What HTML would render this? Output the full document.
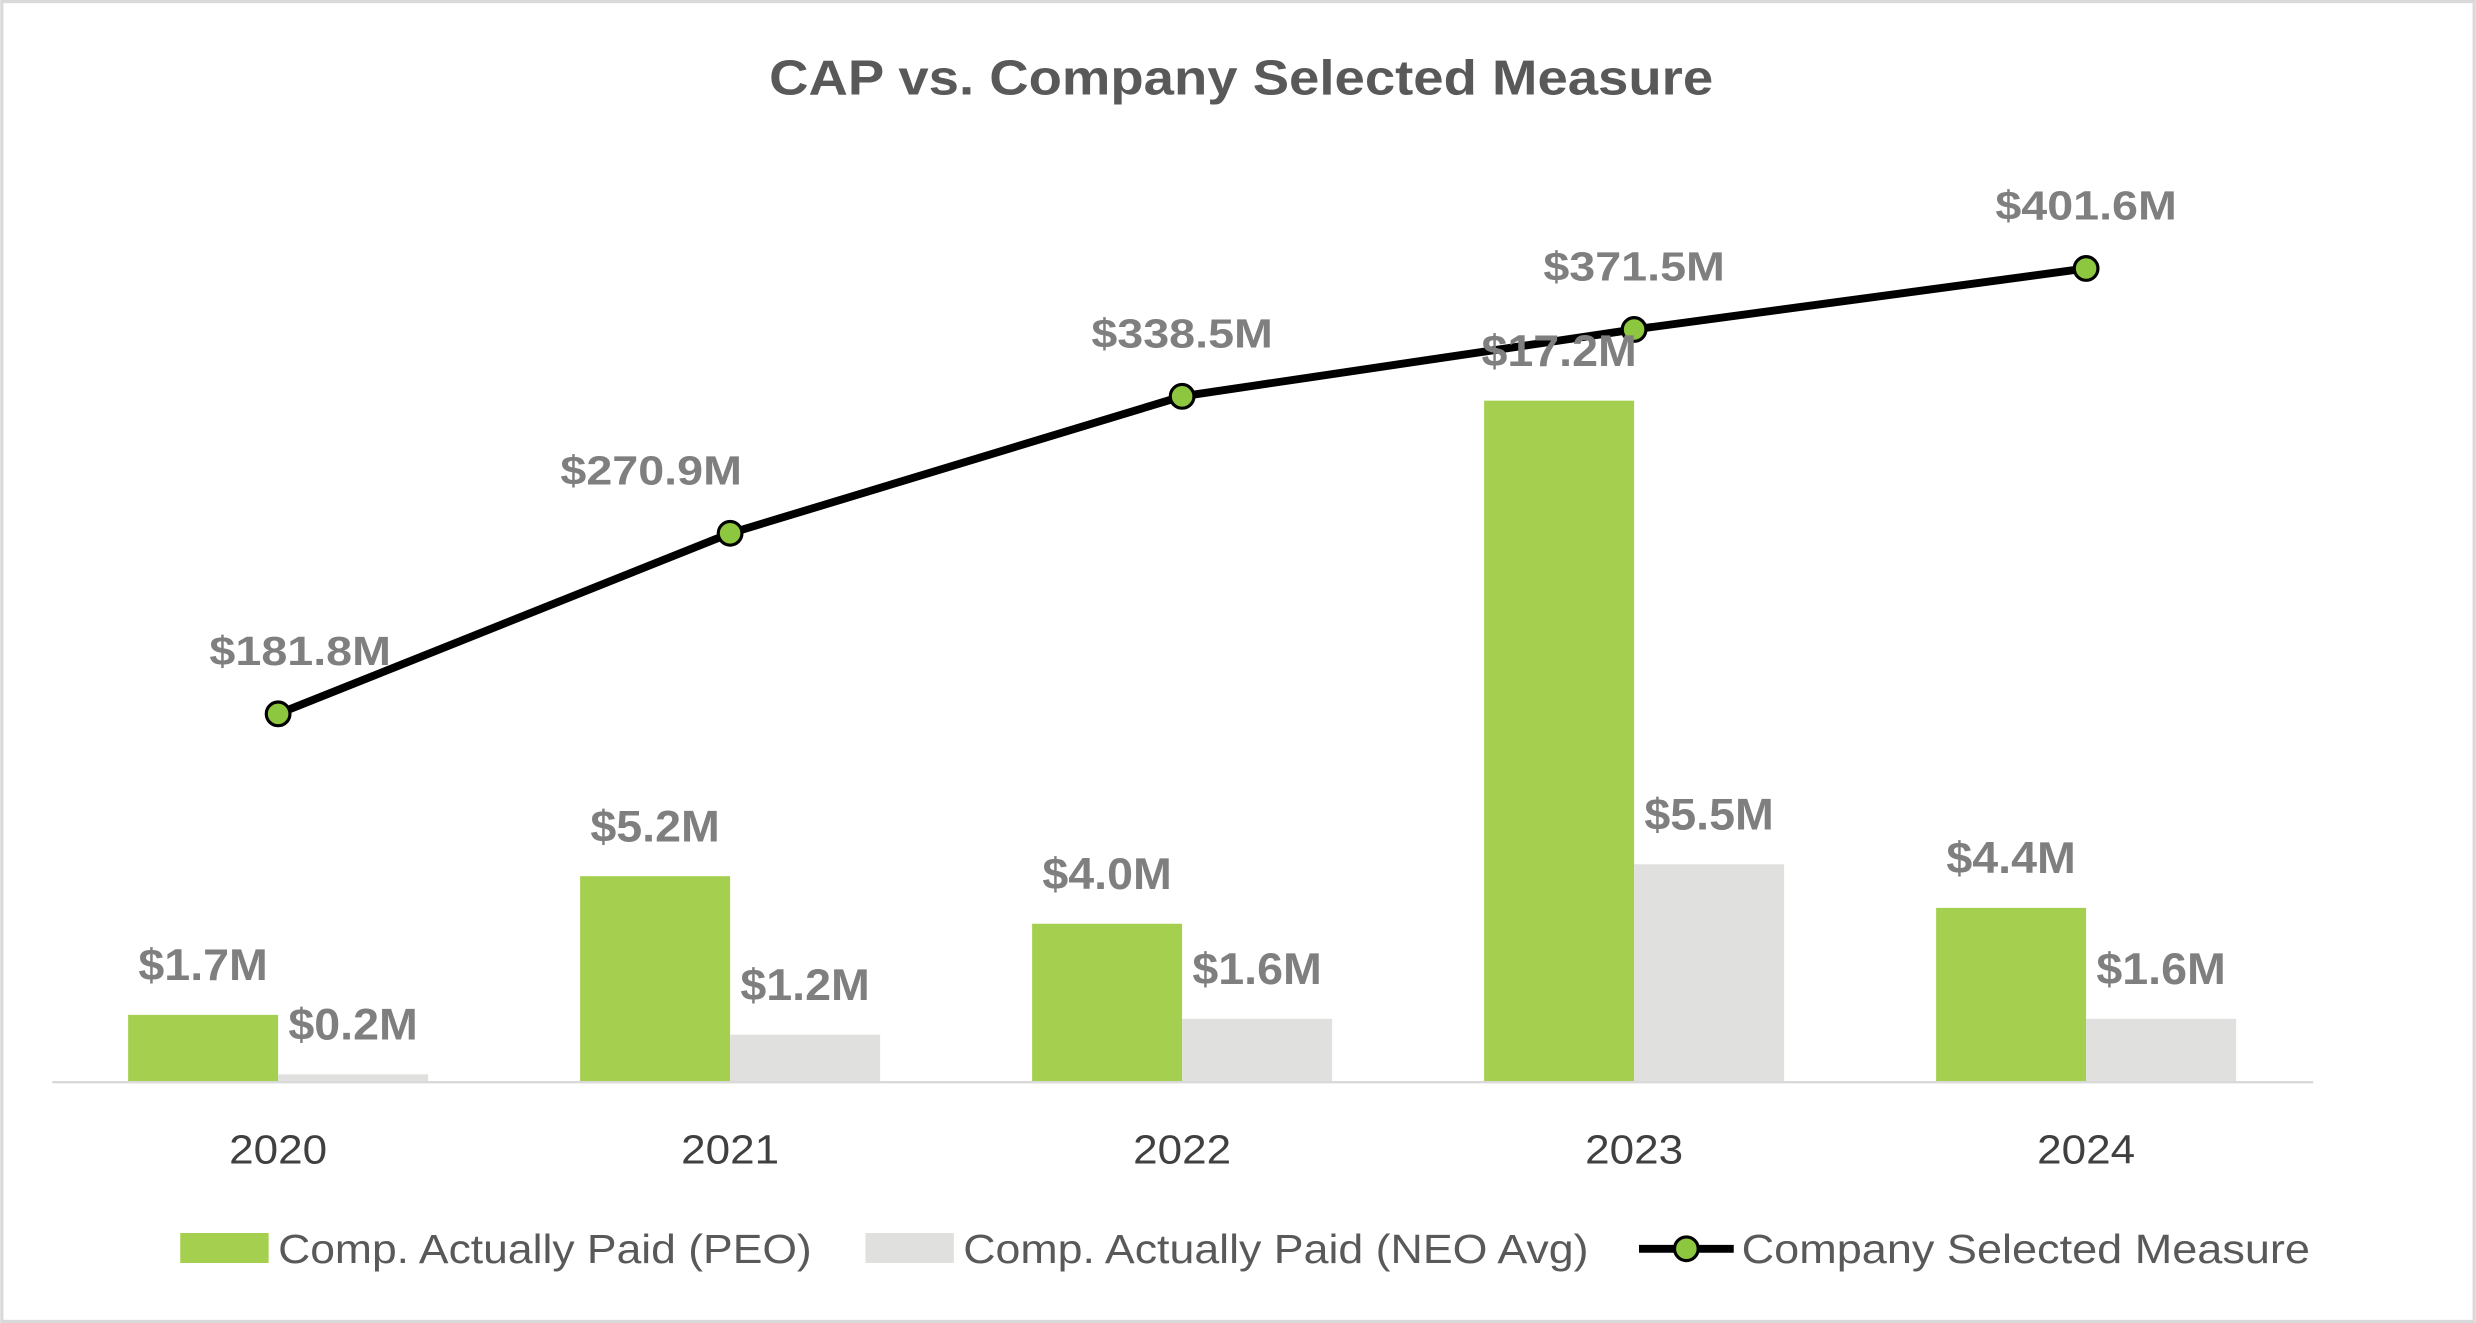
<!DOCTYPE html>
<html><head><meta charset="utf-8"><style>
html,body{margin:0;padding:0;background:#fff;}
svg{display:block;}
text{font-family:"Liberation Sans",sans-serif;}
</style></head><body>
<svg id="chart" width="2476" height="1323" viewBox="0 0 1568 838" xmlns="http://www.w3.org/2000/svg">
<rect x="1" y="1" width="1566" height="836" fill="#fff" stroke="#d9d9d9" stroke-width="2"/>
<text x="786" y="60" text-anchor="middle" font-size="31" font-weight="bold" fill="#595959" textLength="598" lengthAdjust="spacingAndGlyphs">CAP vs. Company Selected Measure</text>
<g id="bars"></g><g id="line"></g><g id="labels"></g>
<line x1="33" y1="685.5" x2="1465" y2="685.5" stroke="#d9d9d9" stroke-width="1.5"/>
<g id="xticks"></g>
<g>
<rect x="114" y="781" width="56" height="19" fill="#a5cf4f"/>
<text x="176" y="800" font-size="26" fill="#595959" textLength="338" lengthAdjust="spacingAndGlyphs">Comp. Actually Paid (PEO)</text>
<rect x="548" y="781" width="56" height="19" fill="#e0e0de"/>
<text x="610" y="800" font-size="26" fill="#595959" textLength="396" lengthAdjust="spacingAndGlyphs">Comp. Actually Paid (NEO Avg)</text>
<line x1="1038" y1="791" x2="1098" y2="791" stroke="#000" stroke-width="5"/>
<circle cx="1068" cy="791" r="7.5" fill="#8dc63f" stroke="#000" stroke-width="2"/>
<text x="1103" y="800" font-size="26" fill="#595959" textLength="360" lengthAdjust="spacingAndGlyphs">Company Selected Measure</text>
</g>
</svg>
<script>
const categories = ["2020","2021","2022","2023","2024"];
const peoValues = [1.7, 5.2, 4.0, 17.2, 4.4];
const neoValues = [0.2, 1.2, 1.6, 5.5, 1.6];
const measureValues = [181.8, 270.9, 338.5, 371.5, 401.6];
const peoLabels = ["$1.7M","$5.2M","$4.0M","$17.2M","$4.4M"];
const neoLabels = ["$0.2M","$1.2M","$1.6M","$5.5M","$1.6M"];
const measureLabels = ["$181.8M","$270.9M","$338.5M","$371.5M","$401.6M"];

const NS = "http://www.w3.org/2000/svg";
const baseY = 685.5;
const xCenter = i => 176 + i * 286.3;
const yBar = v => baseY - v * 25.1;
const yLine = v => baseY - v * 1.2835;
const barW = 95;
const lineLabelDx = [14, -50, 0, 0, 0];

function mk(tag, attrs, parent) {
  const el = document.createElementNS(NS, tag);
  for (const k in attrs) el.setAttribute(k, attrs[k]);
  parent.appendChild(el);
  return el;
}
const gb = document.getElementById('bars');
const gl = document.getElementById('line');
const gt = document.getElementById('labels');
const gx = document.getElementById('xticks');

categories.forEach((c, i) => {
  const cx = xCenter(i);
  const r1 = mk('rect', {x: cx - barW, y: yBar(peoValues[i]), width: barW, height: baseY - yBar(peoValues[i]), fill: '#a5cf4f'}, gb);
  
  
  const r2 = mk('rect', {x: cx, y: yBar(neoValues[i]), width: barW, height: baseY - yBar(neoValues[i]), fill: '#e0e0de'}, gb);
  
  

  const t1 = mk('text', {x: cx - barW / 2, y: yBar(peoValues[i]) - 22, 'text-anchor': 'middle', 'font-size': 28, 'font-weight': 'bold', fill: '#7f7f7f', textLength: peoLabels[i].length * 16.4, lengthAdjust: 'spacingAndGlyphs'}, gt);
  t1.textContent = peoLabels[i];
  
  
  const t2 = mk('text', {x: cx + barW / 2, y: yBar(neoValues[i]) - 22, 'text-anchor': 'middle', 'font-size': 28, 'font-weight': 'bold', fill: '#7f7f7f', textLength: neoLabels[i].length * 16.4, lengthAdjust: 'spacingAndGlyphs'}, gt);
  t2.textContent = neoLabels[i];
  
  

  const tx = mk('text', {x: cx, y: 737, 'text-anchor': 'middle', 'font-size': 26, fill: '#404040', textLength: 62, lengthAdjust: 'spacingAndGlyphs'}, gx);
  tx.textContent = c;
  
  
});

const pts = measureValues.map((v, i) => xCenter(i) + ',' + yLine(v)).join(' ');
const pl = mk('polyline', {points: pts, fill: 'none', stroke: '#000', 'stroke-width': 5, 'stroke-linejoin': 'round'}, gl);


measureValues.forEach((v, i) => {
  const c = mk('circle', {cx: xCenter(i), cy: yLine(v), r: 7.5, fill: '#8dc63f', stroke: '#000', 'stroke-width': 2}, gl);
  
  
  const t = mk('text', {x: xCenter(i) + lineLabelDx[i], y: yLine(v) - 31, 'text-anchor': 'middle', 'font-size': 26, 'font-weight': 'bold', fill: '#7f7f7f', textLength: 115, lengthAdjust: 'spacingAndGlyphs'}, gt);
  t.textContent = measureLabels[i];
  
  
});
</script>
</body></html>
